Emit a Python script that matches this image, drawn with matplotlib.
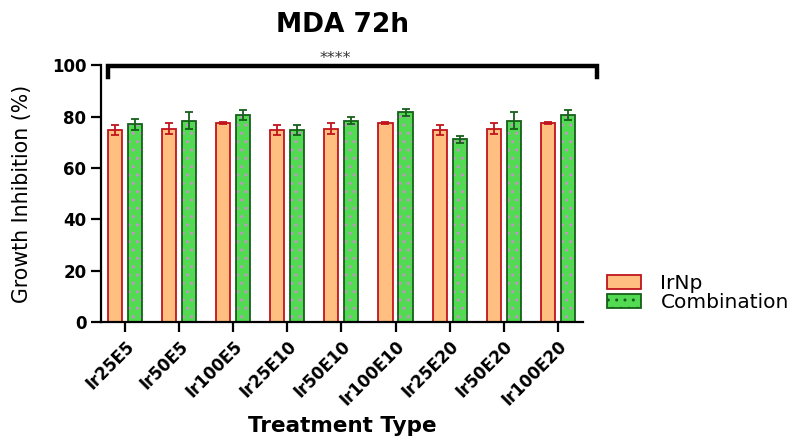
import matplotlib
matplotlib.use("Agg")
import matplotlib.pyplot as plt
import numpy as np
from matplotlib.patches import Patch

plt.rcParams['font.family'] = ['DejaVu Sans']
plt.rcParams['hatch.linewidth'] = 1.0

categories = ["Ir25E5", "Ir50E5", "Ir100E5", "Ir25E10", "Ir50E10", "Ir100E10",
              "Ir25E20", "Ir50E20", "Ir100E20"]
irnp_mean = [74.8, 75.3, 77.4, 74.8, 75.3, 77.4, 74.8, 75.3, 77.4]
irnp_err = [2.0, 2.0, 0.3, 2.0, 2.0, 0.3, 2.0, 2.0, 0.3]
comb_mean = [76.9, 78.4, 80.5, 74.8, 78.4, 81.6, 71.1, 78.4, 80.5]
comb_err = [2.0, 3.4, 2.0, 2.0, 1.5, 1.5, 1.5, 3.4, 2.0]
yticks = [0, 20, 40, 60, 80, 100]

fig = plt.figure(figsize=(8.04, 4.4), dpi=100)
ax = fig.add_axes([0.1256, 0.268, 0.6, 0.584])

x = np.arange(len(categories))
w = 0.26
off = 0.185

orange_fill = '#FFBF80'
orange_edge = '#C0141C'
green_fill = '#52DB52'
green_edge = '#16601A'
dot_color = '#C890C8'

ax.bar(x - off, irnp_mean, w, color=orange_fill, edgecolor=orange_edge, linewidth=1.3, zorder=2)
ax.errorbar(x - off, irnp_mean, yerr=irnp_err, fmt='none', ecolor=orange_edge,
            elinewidth=1.3, capsize=3, capthick=1.3, zorder=3)

ax.bar(x + off, comb_mean, w, color=green_fill, edgecolor=dot_color, linewidth=0,
       hatch='..', zorder=2)
ax.bar(x + off, comb_mean, w, fill=False, edgecolor=green_edge, linewidth=1.3, zorder=2.5)
ax.errorbar(x + off, comb_mean, yerr=comb_err, fmt='none', ecolor=green_edge,
            elinewidth=1.3, capsize=3, capthick=1.3, zorder=3)

ax.set_xlim(-0.44, 8.47)
ax.set_ylim(0, 100)
ax.set_yticks(yticks)
ax.set_yticklabels([str(t) for t in yticks], fontweight='bold', fontsize=12)
ax.set_xticks(x)
ax.set_xticklabels(categories, rotation=45, ha='right', rotation_mode='anchor',
                   fontsize=12, fontweight='bold')

for s in ['top', 'right']:
    ax.spines[s].set_visible(False)
for s in ['left', 'bottom']:
    ax.spines[s].set_linewidth(1.6)
ax.tick_params(axis='both', length=7, width=1.6)
ax.tick_params(axis='x', pad=4)

ax.set_ylabel("Growth Inhibition (%)", fontsize=14.8, labelpad=14)
ax.set_xlabel("Treatment Type", fontsize=15.5, fontweight='bold', va='baseline')
ax.xaxis.set_label_coords(0.5, (322 - 432) / 257)
ax.set_title("MDA 72h", fontsize=19, fontweight='bold', pad=24)

# significance bracket
bx0, bx1 = -0.305, 8.72
ax.plot([bx0, bx0, bx1, bx1], [95.3, 99.8, 99.8, 95.3], color='black', lw=3.2,
        clip_on=False, solid_joinstyle='miter', zorder=4)
ax.text(3.89, 100.8, "****", ha='center', va='baseline', fontsize=11.5,
        color='#333333')

handles = [Patch(facecolor=orange_fill, edgecolor=orange_edge, linewidth=1.3, label='IrNp'),
           Patch(facecolor=green_fill, edgecolor=green_edge, linewidth=1.3, hatch='..',
                 label='Combination')]
fig.legend(handles=handles, loc='upper left', bbox_to_anchor=(0.755, 0.378), frameon=False,
           fontsize=14.5, handlelength=1.7, handleheight=0.7, labelspacing=0.0,
           handletextpad=0.95, borderpad=0, borderaxespad=0)

fig.savefig("out.png", dpi=100)
